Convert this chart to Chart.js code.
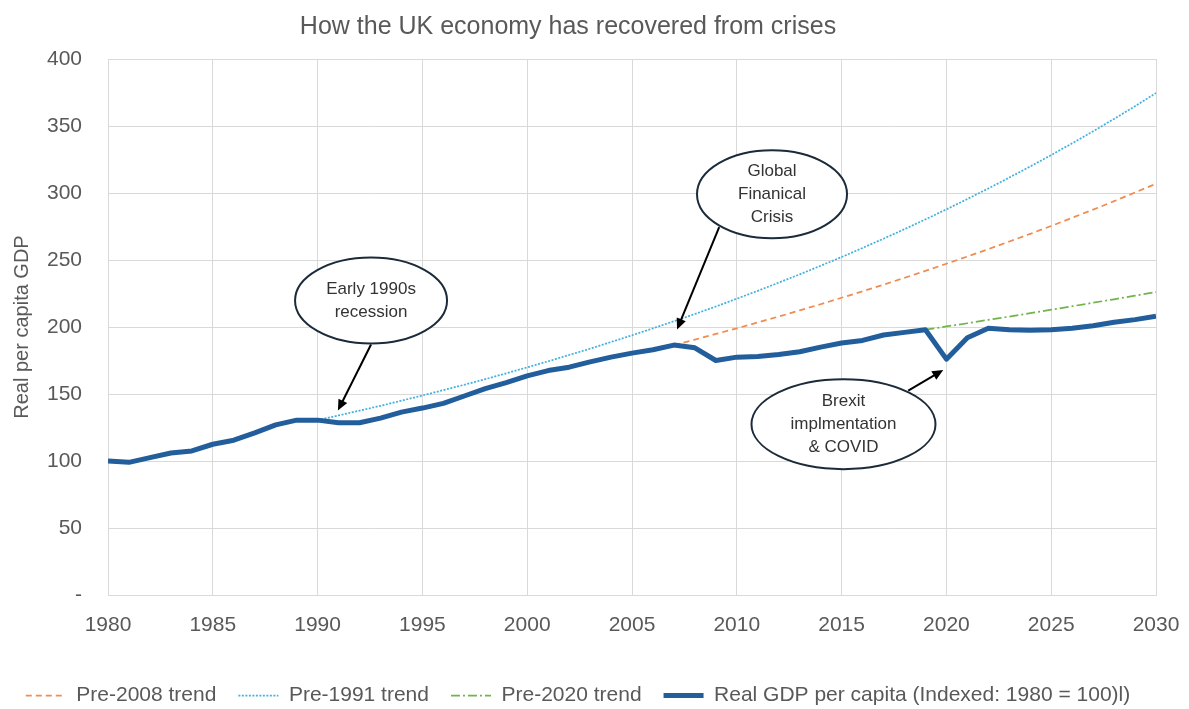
<!DOCTYPE html>
<html>
<head>
<meta charset="utf-8">
<title>How the UK economy has recovered from crises</title>
<script src="https://cdn.jsdelivr.net/npm/chart.js@4.4.1/dist/chart.umd.min.js"></script>
<style>
  html, body { margin: 0; padding: 0; background: #fff; }
  #wrap { width: 1189px; height: 709px; }
</style>
</head>
<body>
<div id="wrap"><canvas id="gdpChart" width="1189" height="709"></canvas></div>
<script>
// data
const chartTitle = 'How the UK economy has recovered from crises';
const yAxisTitle = 'Real per capita GDP';

const years = [1980, 1981, 1982, 1983, 1984, 1985, 1986, 1987, 1988, 1989,
               1990, 1991, 1992, 1993, 1994, 1995, 1996, 1997, 1998, 1999,
               2000, 2001, 2002, 2003, 2004, 2005, 2006, 2007, 2008, 2009,
               2010, 2011, 2012, 2013, 2014, 2015, 2016, 2017, 2018, 2019,
               2020, 2021, 2022, 2023, 2024, 2025, 2026, 2027, 2028, 2029, 2030];
const gdp = [100, 99, 102.5, 106, 107.5, 112.5, 115.5, 121, 127, 130.5,
             130.5, 128.5, 128.5, 132, 136.5, 139.5, 143, 148.5, 154, 158.5,
             163.5, 167.5, 170, 174, 177.5, 180.5, 183, 186.5, 184.5, 175,
             177.5, 178, 179.5, 181.5, 185, 188, 190, 194, 196, 198,
             176, 192, 199, 198, 197.5, 198, 199, 201, 203.5, 205.5, 208];

// trend lines: first year + yearly values
const pre1991Start = 1990;
const pre1991 = [130.5, 134.0, 137.6, 141.2, 145.0, 148.9, 152.9, 156.9, 161.1, 165.4,
                 169.9, 174.4, 179.1, 183.8, 188.8, 193.8, 199.0, 204.3, 209.7, 215.3,
                 221.1, 227.0, 233.1, 239.3, 245.7, 252.2, 259.0, 265.9, 273.0, 280.3,
                 287.8, 295.5, 303.4, 311.5, 319.8, 328.3, 337.1, 346.1, 355.3, 364.8, 374.6];
const pre2008Start = 2007;
const pre2008 = [186.5, 190.6, 194.8, 199.0, 203.4, 207.8, 212.4, 217.0, 221.8, 226.6,
                 231.6, 236.7, 241.9, 247.2, 252.6, 258.1, 263.8, 269.5, 275.4, 281.5,
                 287.6, 293.9, 300.4, 306.9];
const pre2020Start = 2019;
const pre2020 = [198, 200.4, 202.8, 205.3, 207.8, 210.3, 212.9, 215.5, 218.1, 220.7, 223.4, 226.1];

// callouts (centre and arrow ends in data units)
const notes = [
    { lines: ['Early 1990s', 'recession'], at: [1992.55, 219.8], rx: 76, ry: 43,
      from: [1992.55, 186.9], to: [1990.97, 137.6] },
    { lines: ['Global', 'Finanical', 'Crisis'], at: [2011.68, 299.1], rx: 75, ry: 44,
      from: [2009.16, 274.5], to: [2007.15, 198.1] },
    { lines: ['Brexit', 'implmentation', '& COVID'], at: [2015.09, 127.5], rx: 92, ry: 45,
      from: [2018.18, 152.5], to: [2019.85, 167.9] }
];

const FONT = '"Liberation Sans", Arial, sans-serif';
const GREY = '#595959';

function toPoints(start, values) {
    return values.map((v, i) => ({ x: start + i, y: v }));
}

const notesPlugin = {
    id: 'notes',
    afterDatasetsDraw(chart) {
        const { ctx } = chart;
        const xs = chart.scales.x, ys = chart.scales.y;
        ctx.save();
        notes.forEach(n => {
            // arrow
            const x1 = xs.getPixelForValue(n.from[0]), y1 = ys.getPixelForValue(n.from[1]);
            const x2 = xs.getPixelForValue(n.to[0]), y2 = ys.getPixelForValue(n.to[1]);
            const ang = Math.atan2(y2 - y1, x2 - x1);
            const head = 12;
            ctx.strokeStyle = '#000';
            ctx.fillStyle = '#000';
            ctx.lineWidth = 2;
            ctx.setLineDash([]);
            ctx.beginPath();
            ctx.moveTo(x1, y1);
            ctx.lineTo(x2 - Math.cos(ang) * head * 0.8, y2 - Math.sin(ang) * head * 0.8);
            ctx.stroke();
            ctx.beginPath();
            ctx.moveTo(x2, y2);
            ctx.lineTo(x2 - head * Math.cos(ang - 0.42), y2 - head * Math.sin(ang - 0.42));
            ctx.lineTo(x2 - head * Math.cos(ang + 0.42), y2 - head * Math.sin(ang + 0.42));
            ctx.closePath();
            ctx.fill();

            // bubble
            const cx = xs.getPixelForValue(n.at[0]), cy = ys.getPixelForValue(n.at[1]);
            ctx.beginPath();
            ctx.ellipse(cx, cy, n.rx, n.ry, 0, 0, Math.PI * 2);
            ctx.fillStyle = '#fff';
            ctx.fill();
            ctx.strokeStyle = '#1b2b3a';
            ctx.lineWidth = 2;
            ctx.stroke();

            ctx.fillStyle = '#333';
            ctx.font = '17px ' + FONT;
            ctx.textAlign = 'center';
            ctx.textBaseline = 'middle';
            const lh = 23;
            const top = cy - (n.lines.length - 1) * lh / 2;
            n.lines.forEach((t, i) => ctx.fillText(t, cx, top + i * lh));
        });
        ctx.restore();
    },
    afterDraw(chart) {
        const { ctx } = chart;
        ctx.save();
        ctx.fillStyle = GREY;
        ctx.font = '25px ' + FONT;
        ctx.textAlign = 'center';
        ctx.textBaseline = 'alphabetic';
        ctx.fillText(chartTitle, 568, 34);
        ctx.restore();
    }
};

new Chart(document.getElementById('gdpChart'), {
    type: 'line',
    data: {
        datasets: [{
            label: 'Pre-2008 trend',
            data: toPoints(pre2008Start, pre2008),
            borderColor: '#ef8c50',
            borderWidth: 1.75,
            borderDash: [6, 4],
            order: 1
        }, {
            label: 'Pre-1991 trend',
            data: toPoints(pre1991Start, pre1991),
            borderColor: '#43b1de',
            borderWidth: 1.75,
            borderDash: [2, 1.5],
            order: 1
        }, {
            label: 'Pre-2020 trend',
            data: toPoints(pre2020Start, pre2020),
            borderColor: '#72b44c',
            borderWidth: 1.75,
            borderDash: [9, 3, 2, 3],
            order: 1
        }, {
            label: 'Real GDP per capita (Indexed: 1980 = 100)l)',
            data: years.map((yr, i) => ({ x: yr, y: gdp[i] })),
            borderColor: '#225e9b',
            borderWidth: 5,
            borderJoinStyle: 'round',
            order: 0
        }]
    },
    options: {
        responsive: false,
        animation: false,
        elements: {
            point: { radius: 0 },
            line: { tension: 0 }
        },
        layout: { padding: { top: 59, right: 33, bottom: -7, left: 0 } },
        scales: {
            x: {
                type: 'linear',
                min: 1980,
                max: 2030,
                ticks: {
                    stepSize: 5,
                    callback: v => String(v),
                    color: GREY,
                    font: { family: FONT, size: 21 },
                    padding: 18,
                    maxRotation: 0
                },
                grid: { color: '#d9d9d9', drawTicks: false },
                border: { color: '#d9d9d9' },
                afterFit(scale) {
                    scale.height = 68;
                    scale.paddingLeft = 0;
                    scale.paddingRight = 24;
                }
            },
            y: {
                min: 0,
                max: 400,
                ticks: {
                    stepSize: 50,
                    callback: v => v === 0 ? '-' : String(v),
                    color: GREY,
                    font: { family: FONT, size: 21 },
                    padding: 26
                },
                grid: { color: '#d9d9d9', drawTicks: false },
                border: { color: '#d9d9d9' },
                title: {
                    display: true,
                    text: yAxisTitle,
                    color: GREY,
                    font: { family: FONT, size: 20 },
                    padding: { top: 10, bottom: 0 }
                },
                afterFit(scale) { scale.width = 108; }
            }
        },
        plugins: {
            legend: {
                position: 'bottom',
                labels: {
                    usePointStyle: true,
                    pointStyle: 'line',
                    pointStyleWidth: 40,
                    padding: 22,
                    color: GREY,
                    font: { family: FONT, size: 21 },
                    sort: (a, b) => a.datasetIndex - b.datasetIndex,
                    generateLabels(chart) {
                        const items = Chart.defaults.plugins.legend.labels.generateLabels(chart);
                        items.forEach(it => {
                            const ds = chart.data.datasets[it.datasetIndex];
                            it.lineDash = ds.borderDash || [];
                            it.lineWidth = ds.borderWidth;
                            it.strokeStyle = ds.borderColor;
                        });
                        return items;
                    }
                }
            },
            tooltip: { enabled: false }
        }
    },
    plugins: [notesPlugin]
});
</script>
</body>
</html>
